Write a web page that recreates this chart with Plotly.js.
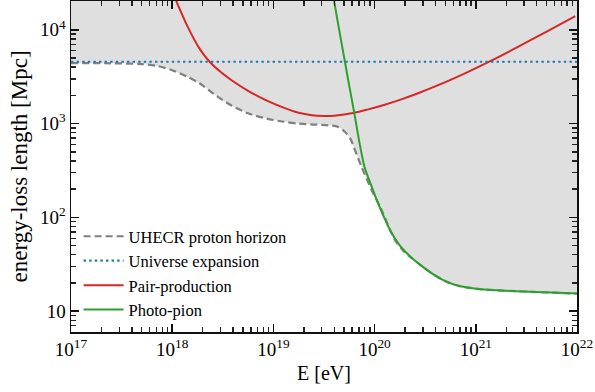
<!DOCTYPE html>
<html>
<head>
<meta charset="utf-8">
<script src="https://cdn.plot.ly/plotly-3.0.1.min.js"></script>
<style>html,body{margin:0;padding:0;background:#fff;}#chart{width:595px;height:392px;}</style>
</head>
<body>
<div id="chart"></div>
<script>
// log10(E/eV) and log10(L/Mpc)
const horizonLogE = [17.0, 17.4, 17.7, 17.85, 18.0, 18.15, 18.27, 18.4, 18.5, 18.59, 18.75, 18.925, 19.1, 19.25, 19.4, 19.544, 19.64, 19.708, 19.76, 19.806, 19.871, 19.97, 20.068, 20.199, 20.3, 20.36, 20.48, 20.6, 20.72, 20.85, 21.0, 21.21, 21.4, 21.54, 21.75, 22.0];
const horizonLogL = [3.645, 3.643, 3.635, 3.615, 3.57, 3.50, 3.43, 3.325, 3.25, 3.19, 3.11, 3.056, 3.02, 3.0, 2.99, 2.982, 2.965, 2.911, 2.84, 2.717, 2.54, 2.293, 2.081, 1.763, 1.625, 1.572, 1.47, 1.38, 1.31, 1.265, 1.24, 1.222, 1.213, 1.207, 1.198, 1.188];

const expansionLogE = [17.0, 22.0];
const expansionLogL = [3.66, 3.66];

const pairLogE = [18.04, 18.15, 18.27, 18.37, 18.48, 18.59, 18.75, 18.925, 19.1, 19.25, 19.38, 19.5, 19.6, 19.8, 19.937, 20.1, 20.264, 20.43, 20.592, 20.75, 20.919, 21.148, 21.411, 21.705, 21.983];
const pairLogL = [4.307, 4.04, 3.80, 3.66, 3.55, 3.46, 3.35, 3.25, 3.17, 3.115, 3.09, 3.082, 3.085, 3.115, 3.152, 3.202, 3.259, 3.324, 3.394, 3.467, 3.55, 3.669, 3.815, 3.984, 4.145];

const pionLogE = [19.6, 19.65, 19.7, 19.75, 19.8, 19.85, 19.9, 19.96, 20.02, 20.09, 20.16, 20.25, 20.36, 20.48, 20.6, 20.72, 20.85, 21.0, 21.21, 21.4, 21.54, 21.75, 22.0];
const pionLogL = [4.307, 4.0, 3.70, 3.40, 3.11, 2.80, 2.54, 2.36, 2.19, 2.01, 1.85, 1.70, 1.575, 1.47, 1.38, 1.31, 1.265, 1.24, 1.222, 1.213, 1.207, 1.198, 1.188];

const xTickVals = [1e17, 1e18, 1e19, 1e20, 1e21, 1e22];
const xTickText = ['10<sup>17</sup>', '10<sup>18</sup>', '10<sup>19</sup>', '10<sup>20</sup>', '10<sup>21</sup>', '10<sup>22</sup>'];
const yTickVals = [10, 100, 1000, 10000];
const yTickText = ['10', '10<sup>2</sup>', '10<sup>3</sup>', '10<sup>4</sup>'];
const xDecades = [17, 18, 19, 20, 21];
const yDecades = [0, 1, 2, 3, 4];
const minorDigits = [2, 3, 4, 5, 6, 7, 8, 9];

const yMin = 6, yMax = 2.03e4;
const xRange = [17, 22];
const yRange = [Math.log10(yMin), Math.log10(yMax)];

const p10 = a => a.map(v => Math.pow(10, v));
const minorVals = decs => decs.flatMap(d => minorDigits.map(m => m * Math.pow(10, d)));

const FONT = 'Liberation Serif, serif';

const traces = [
  { x: p10(horizonLogE), y: horizonLogE.map(() => yMax), mode: 'lines', line: {width: 0, color: 'rgba(0,0,0,0)'}, showlegend: false, hoverinfo: 'skip' },
  { x: p10(horizonLogE), y: p10(horizonLogL), mode: 'lines', fill: 'tonexty', fillcolor: '#dfdfdf', line: {width: 0, color: 'rgba(0,0,0,0)', shape: 'spline', smoothing: 0.8}, showlegend: false, hoverinfo: 'skip' },
  { x: p10(horizonLogE), y: p10(horizonLogL), mode: 'lines', name: 'UHECR proton horizon', line: {color: '#808080', width: 2.2, dash: '7px,4px', shape: 'spline', smoothing: 0.8} },
  { x: p10(expansionLogE), y: p10(expansionLogL), mode: 'lines', name: 'Universe expansion', xaxis: 'x2', yaxis: 'y2', line: {color: '#1f77b4', width: 2.2, dash: '2.4px,3.2px'} },
  { x: p10(pairLogE), y: p10(pairLogL), mode: 'lines', name: 'Pair-production', line: {color: '#d62728', width: 2, shape: 'spline', smoothing: 0.8} },
  { x: p10(pionLogE), y: p10(pionLogL), mode: 'lines', name: 'Photo-pion', line: {color: '#2ca02c', width: 2, shape: 'spline', smoothing: 0.8} }
];

const axisCommon = {
  type: 'log', gridcolor: 'rgba(0,0,0,0)',
  showline: true, linecolor: '#111', linewidth: 1.5, mirror: 'allticks',
  ticks: 'inside', ticklen: 8, tickwidth: 1.6, tickcolor: '#111',
  tickfont: {family: FONT, size: 19, color: '#000'}
};

const minorAxis = {
  type: 'log', gridcolor: 'rgba(0,0,0,0)',
  showline: true, linecolor: '#111', linewidth: 1.5, mirror: 'allticks',
  ticks: 'inside', ticklen: 5, tickwidth: 1.4, tickcolor: '#222',
  showticklabels: false, tickmode: 'array'
};

const layout = {
  width: 595, height: 392,
  margin: {l: 71, r: 18, t: 1, b: 60},
  paper_bgcolor: '#fff', plot_bgcolor: '#fff',
  font: {family: FONT, color: '#000'},
  xaxis: Object.assign({}, axisCommon, {
    range: xRange, tickmode: 'array', tickvals: xTickVals, ticktext: xTickText,
    title: {text: 'E [eV]', font: {family: FONT, size: 20}, standoff: 6}
  }),
  yaxis: Object.assign({}, axisCommon, {
    range: yRange, tickmode: 'array', tickvals: yTickVals, ticktext: yTickText,
    title: {text: 'energy-loss length [Mpc]', font: {family: FONT, size: 23}, standoff: 6}
  }),
  xaxis2: Object.assign({}, minorAxis, {overlaying: 'x', anchor: 'y2', range: xRange, tickvals: minorVals(xDecades)}),
  yaxis2: Object.assign({}, minorAxis, {overlaying: 'y', anchor: 'x2', range: yRange, tickvals: minorVals(yDecades)}),
  legend: {
    x: 0.015, y: 0.015, xanchor: 'left', yanchor: 'bottom',
    traceorder: 'normal',
    bgcolor: 'rgba(0,0,0,0)', borderwidth: 0,
    font: {family: FONT, size: 16.5, color: '#000'},
    tracegroupgap: 0, itemwidth: 40
  },
  showlegend: true
};

Plotly.newPlot('chart', traces, layout, {staticPlot: true, displayModeBar: false});
</script>
</body>
</html>
